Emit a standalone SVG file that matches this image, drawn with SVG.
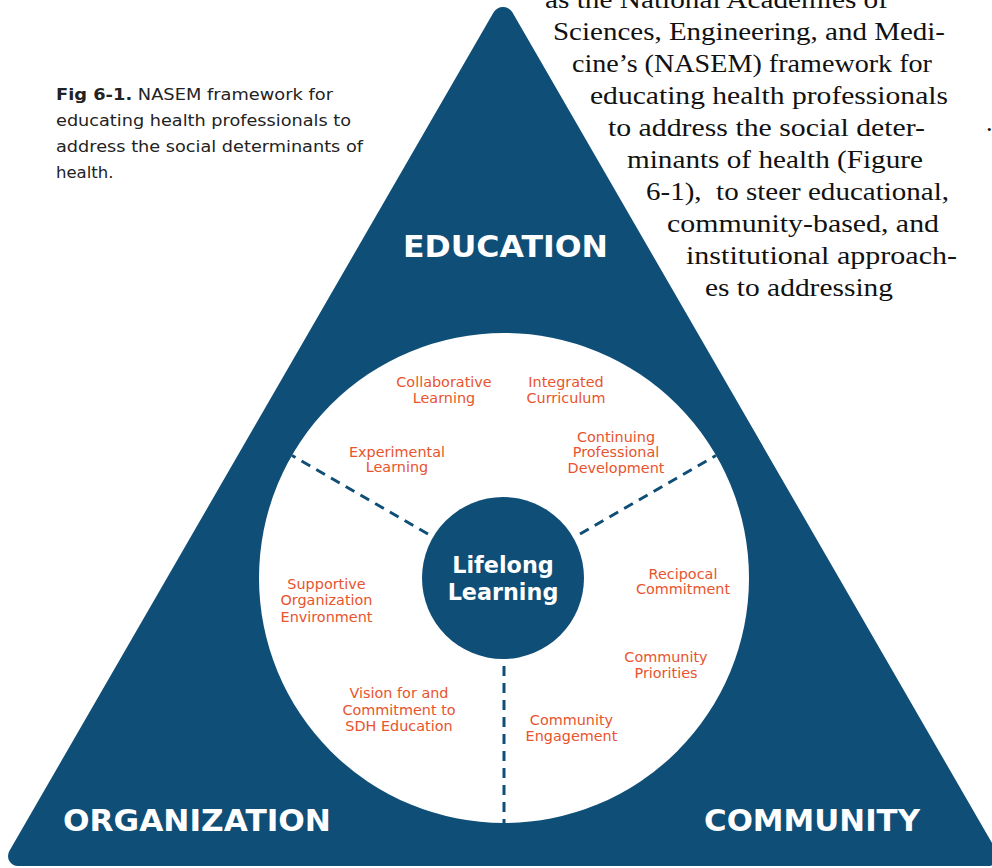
<svg xmlns="http://www.w3.org/2000/svg" width="992" height="868" viewBox="0 0 992 868">
<style>
.blue{fill:#0f4e76}
.lbl{font-family:"DejaVu Sans",sans-serif;font-size:14.4px;fill:#e8542d;text-anchor:middle}
.big{font-family:"DejaVu Sans",sans-serif;font-weight:bold;font-size:31px;fill:#ffffff}
.core{font-family:"DejaVu Sans",sans-serif;font-weight:bold;font-size:22.3px;fill:#ffffff;text-anchor:middle}
.cap{font-family:"DejaVu Sans",sans-serif;font-size:16.5px;fill:#222222}
.body{font-family:"Liberation Serif",serif;font-size:26px;fill:#111111}
.dash{stroke:#0f4e76;stroke-width:3;stroke-dasharray:10 7;fill:none}
</style>
<rect width="992" height="868" fill="#ffffff"/>
<g id="caption">
<text class="cap" x="56" y="100" textLength="277" lengthAdjust="spacingAndGlyphs"><tspan font-weight="bold">Fig 6-1.</tspan> NASEM framework for</text>
<text class="cap" x="56" y="126" textLength="295" lengthAdjust="spacingAndGlyphs">educating health professionals to</text>
<text class="cap" x="56" y="152" textLength="307" lengthAdjust="spacingAndGlyphs">address the social determinants of</text>
<text class="cap" x="56" y="178">health.</text>
</g>
<g id="triangle">
<path class="blue" d="M 493.5 12.45 A 11 11 0 0 1 512.5 12.45 L 996.6 851 A 10 10 0 0 1 988 866 L 18 866 A 10 10 0 0 1 9.36 851 Z"/>
</g>
<g id="body-text">
<text class="body" x="545" y="8" textLength="343" lengthAdjust="spacingAndGlyphs">as the National Academies of</text>
<text class="body" x="553" y="40" textLength="392" lengthAdjust="spacingAndGlyphs">Sciences, Engineering, and Medi-</text>
<text class="body" x="572" y="72" textLength="360" lengthAdjust="spacingAndGlyphs">cine’s (NASEM) framework for</text>
<text class="body" x="590" y="104" textLength="358" lengthAdjust="spacingAndGlyphs">educating health professionals</text>
<text class="body" x="608" y="136" textLength="317" lengthAdjust="spacingAndGlyphs">to address the social deter-</text>
<text class="body" x="627" y="168" textLength="296" lengthAdjust="spacingAndGlyphs">minants of health (Figure</text>
<text class="body" x="646" y="200" textLength="303" lengthAdjust="spacingAndGlyphs" style="white-space:pre">6-1),  to steer educational,</text>
<text class="body" x="667" y="232" textLength="272" lengthAdjust="spacingAndGlyphs">community-based, and</text>
<text class="body" x="686" y="264" textLength="271" lengthAdjust="spacingAndGlyphs">institutional approach-</text>
<text class="body" x="705" y="296" textLength="188" lengthAdjust="spacingAndGlyphs">es to addressing</text>
<text class="body" x="986" y="131">.</text>
</g>
<g id="outer-circle">
<circle cx="504" cy="578" r="245" fill="#ffffff"/>
</g>
<g id="connectors">
<line class="dash" x1="428" y1="534" x2="292" y2="455.5"/>
<line class="dash" x1="580" y1="534" x2="716" y2="455.5"/>
<line class="dash" x1="504" y1="666" x2="504" y2="823"/>
</g>
<g id="lifelong-learning">
<circle class="blue" cx="503" cy="578" r="81"/>
<text class="core" x="503" y="573">Lifelong</text>
<text class="core" x="503" y="600">Learning</text>
</g>
<g id="education">
<text class="big" x="403" y="257" textLength="205" lengthAdjust="spacingAndGlyphs">EDUCATION</text>
</g>
<g id="organization">
<text class="big" x="63" y="831" textLength="268" lengthAdjust="spacingAndGlyphs">ORGANIZATION</text>
</g>
<g id="community">
<text class="big" x="704" y="831" textLength="216" lengthAdjust="spacingAndGlyphs">COMMUNITY</text>
</g>
<g id="collaborative-learning"><text class="lbl" x="444" y="387">Collaborative</text><text class="lbl" x="444" y="403">Learning</text></g>
<g id="integrated-curriculum"><text class="lbl" x="566" y="387">Integrated</text><text class="lbl" x="566" y="403">Curriculum</text></g>
<g id="experimental-learning"><text class="lbl" x="397" y="457">Experimental</text><text class="lbl" x="397" y="472">Learning</text></g>
<g id="continuing-development"><text class="lbl" x="616" y="441.5">Continuing</text><text class="lbl" x="616" y="457">Professional</text><text class="lbl" x="616" y="472.5">Development</text></g>
<g id="supportive-environment"><text class="lbl" x="326.5" y="588.5">Supportive</text><text class="lbl" x="326.5" y="605">Organization</text><text class="lbl" x="326.5" y="621.5">Environment</text></g>
<g id="vision-commitment"><text class="lbl" x="399" y="698">Vision for and</text><text class="lbl" x="399" y="714.5">Commitment to</text><text class="lbl" x="399" y="730.5">SDH Education</text></g>
<g id="reciprocal-commitment"><text class="lbl" x="683" y="578.5">Recipocal</text><text class="lbl" x="683" y="594">Commitment</text></g>
<g id="community-priorities"><text class="lbl" x="666" y="661.5">Community</text><text class="lbl" x="666" y="677.5">Priorities</text></g>
<g id="community-engagement"><text class="lbl" x="571.5" y="725">Community</text><text class="lbl" x="571.5" y="740.5">Engagement</text></g>
</svg>
